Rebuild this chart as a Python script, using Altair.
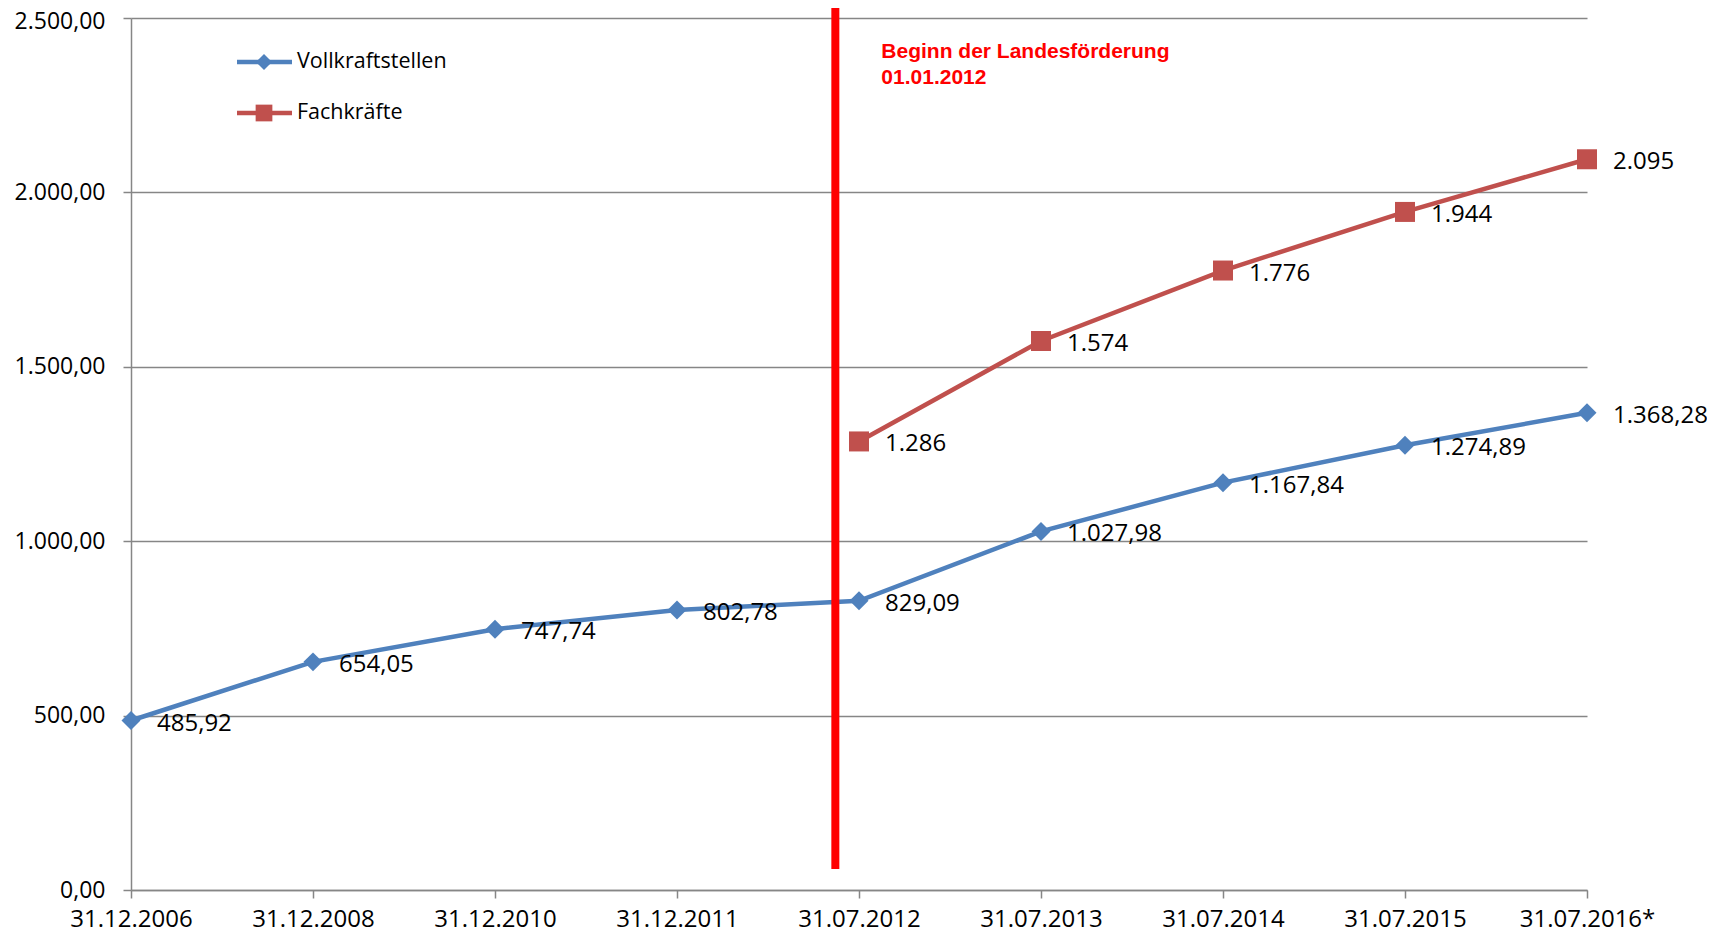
import json
import altair as alt
import pandas as pd

# ---------------- data ----------------
categories = ["31.12.2006", "31.12.2008", "31.12.2010", "31.12.2011", "31.07.2012",
              "31.07.2013", "31.07.2014", "31.07.2015", "31.07.2016*"]
voll_values = [485.92, 654.05, 747.74, 802.78, 829.09, 1027.98, 1167.84, 1274.89, 1368.28]
voll_labels = ["485,92", "654,05", "747,74", "802,78", "829,09", "1.027,98", "1.167,84",
               "1.274,89", "1.368,28"]
fach_categories = ["31.07.2012", "31.07.2013", "31.07.2014", "31.07.2015", "31.07.2016*"]
fach_values = [1286, 1574, 1776, 1944, 2095]
fach_labels = ["1.286", "1.574", "1.776", "1.944", "2.095"]
series_names = ["Vollkraftstellen", "Fachkräfte"]
series_colors = ["#4F81BD", "#C0504D"]
series_shapes = ["diamond", "square"]
y_ticks = [0, 500, 1000, 1500, 2000, 2500]
start_pos = [3.87]            # 01.01.2012 lies between 31.12.2011 and 31.07.2012
start_span = [60, 2560]       # vertical extent of the marker line (value units)
start_text = ["Beginn der Landesförderung", "01.01.2012"]

# ---------------- tables ----------------
voll_df = pd.DataFrame({
    "pos": [categories.index(c) for c in categories],
    "value": voll_values,
    "label": voll_labels,
})
fach_df = pd.DataFrame({
    "pos": [categories.index(c) for c in fach_categories],
    "value": fach_values,
    "label": fach_labels,
})
marker_df = pd.DataFrame({"pos": start_pos, "value": [start_span[0]], "value2": [start_span[1]]})

FONT = "Open Sans"
GRID = "#868686"
LABEL_SIZE = 24

x_enc = alt.X(
    "pos:Q",
    title=None,
    scale=alt.Scale(domain=[0, len(categories) - 1], nice=False, zero=False),
    axis=alt.Axis(
        values=list(range(len(categories))),
        labelExpr=json.dumps(categories) + "[datum.value]",
        grid=False, tickSize=8, tickColor=GRID, tickWidth=1.5,
        domainColor=GRID, domainWidth=1.5,
        labelFont=FONT, labelFontSize=LABEL_SIZE, labelColor="#000000", labelPadding=9,
        labelFlush=False,
    ),
)
y_enc = alt.Y(
    "value:Q",
    title=None,
    scale=alt.Scale(domain=[0, 2500], nice=False),
    axis=alt.Axis(
        values=y_ticks,
        labelExpr="replace(replace(replace(format(datum.value, ',.2f'), ',', '#'), '.', ','), '#', '.')",
        grid=True, gridColor=GRID, gridWidth=1.5,
        tickSize=8, tickColor=GRID, tickWidth=1.5,
        domainColor=GRID, domainWidth=1.5,
        labelFont=FONT, labelFontSize=23, labelColor="#000000", labelPadding=18,
        labelOffset={"condition": {"test": "datum.value == 2500", "value": 3}, "value": 0},
        labelFlush=False,
    ),
)


def series_layers(df, color, shape, size):
    base = alt.Chart(df).encode(x=x_enc, y=y_enc)
    line = base.mark_line(color=color, strokeWidth=4.5)
    pts = base.mark_point(shape=shape, filled=True, size=size, color=color, opacity=1)
    txt = base.mark_text(align="left", baseline="middle", dx=26, dy=3, font=FONT,
                         fontSize=LABEL_SIZE, color="#000000").encode(text="label:N")
    return [line, pts, txt]


layers = []
layers += series_layers(voll_df, series_colors[0], series_shapes[0], 360)
layers += series_layers(fach_df, series_colors[1], series_shapes[1], 400)

rule = alt.Chart(marker_df).mark_rule(color="#FF0000", strokeWidth=8).encode(
    x=x_enc, y=y_enc, y2="value2:Q",
)
note = alt.Chart(marker_df).mark_text(
    text=start_text, align="left", baseline="alphabetic", dx=46, font="Liberation Sans",
    fontWeight="bold", fontSize=21, lineHeight=26, color="#FF0000",
).encode(x=x_enc, y=alt.value(40))
layers += [rule, note]

# manual legend (line + marker, as in the original)
for i, name in enumerate(series_names):
    ly = 44 + 51 * i
    ldf = pd.DataFrame({"name": [name]})
    lb = alt.Chart(ldf)
    layers.append(lb.mark_rule(color=series_colors[i], strokeWidth=4.5).encode(
        x=alt.value(106), x2=alt.value(161), y=alt.value(ly)))
    layers.append(lb.mark_point(shape=series_shapes[i], filled=True, opacity=1,
                                size=260 if i == 0 else 280, color=series_colors[i]).encode(
        x=alt.value(133), y=alt.value(ly)))
    layers.append(lb.mark_text(align="left", baseline="middle", font=FONT, fontSize=21.5,
                               color="#000000").encode(
        x=alt.value(166), y=alt.value(ly), text="name:N"))

chart = alt.layer(*layers).properties(
    width=1456, height=872,
    autosize=alt.AutoSizeParams(type="none"),
    padding={"left": 123, "top": 10, "right": 120, "bottom": 46},
    background="#FFFFFF",
).configure_view(stroke=None)

chart.save("out.html", embed_options={"renderer": "svg", "actions": False})
